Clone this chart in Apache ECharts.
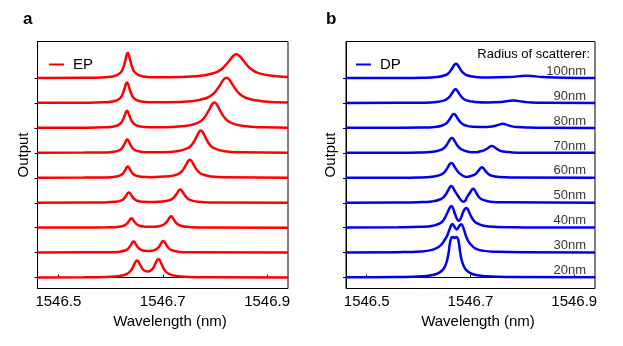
<!DOCTYPE html>
<html>
<head>
<meta charset="utf-8">
<script src="https://cdn.jsdelivr.net/npm/echarts@6/dist/echarts.min.js"></script>
<style>
  html, body { margin: 0; padding: 0; background: #fff; }
  #main { width: 623px; height: 346px; }
</style>
</head>
<body>
<div id="main"></div>
<script>
// wavelength ticks (nm)
const xTicks = [1546.5, 1546.7, 1546.9];
// vertical offset of each trace, top to bottom
const offsets = [8, 7, 6, 5, 4, 3, 2, 1, 0];
const radiusLabels = ['100nm', '90nm', '80nm', '70nm', '60nm', '50nm', '40nm', '30nm', '20nm'];

// panel a, EP traces (wavelength, output above own baseline), top to bottom
const ep1 = [[1546.46,.01],[1546.55,.013],[1546.5898,.037],[1546.6078,.085],[1546.6186,.21],[1546.6236,.382],[1546.6287,.745],[1546.6308,.927],[1546.633,1.01],[1546.6352,.927],[1546.6373,.745],[1546.6424,.382],[1546.6474,.21],[1546.6582,.087],[1546.6762,.04],[1546.709,.035],[1546.764,.074],[1546.797,.193],[1546.8124,.358],[1546.8278,.707],[1546.8344,.88],[1546.841,.96],[1546.8476,.88],[1546.8542,.706],[1546.8696,.357],[1546.885,.192],[1546.918,.072],[1546.94,.045]];
const ep2 = [[1546.46,.01],[1546.55,.015],[1546.5883,.032],[1546.6063,.072],[1546.6171,.174],[1546.6221,.315],[1546.6272,.613],[1546.6293,.762],[1546.6315,.83],[1546.6337,.762],[1546.6358,.613],[1546.6409,.316],[1546.6459,.175],[1546.6567,.073],[1546.6747,.034],[1546.708,.034],[1546.7555,.077],[1546.784,.204],[1546.7973,.379],[1546.8106,.75],[1546.8163,.935],[1546.822,1.02],[1546.8277,.935],[1546.8334,.75],[1546.8467,.379],[1546.86,.204],[1546.8885,.077],[1546.94,.026]];
const ep3 = [[1546.46,.01],[1546.55,.014],[1546.5883,.027],[1546.6063,.06],[1546.6171,.146],[1546.6221,.263],[1546.6272,.51],[1546.6293,.634],[1546.6315,.69],[1546.6337,.634],[1546.6358,.51],[1546.6409,.264],[1546.6459,.147],[1546.6567,.062],[1546.6747,.03],[1546.703,.033],[1546.743,.077],[1546.767,.204],[1546.7782,.379],[1546.7894,.75],[1546.7942,.935],[1546.799,1.02],[1546.8038,.935],[1546.8086,.75],[1546.8198,.379],[1546.831,.204],[1546.855,.077],[1546.895,.028],[1546.94,.013]];
const ep4 = [[1546.46,.008],[1546.55,.012],[1546.5888,.02],[1546.6068,.047],[1546.6176,.114],[1546.6226,.205],[1546.6277,.398],[1546.6298,.494],[1546.632,.54],[1546.6342,.494],[1546.6363,.398],[1546.6414,.206],[1546.6464,.114],[1546.6572,.05],[1546.6752,.024],[1546.695,.028],[1546.7275,.068],[1546.747,.18],[1546.7561,.335],[1546.7652,.662],[1546.7691,.825],[1546.773,.9],[1546.7769,.825],[1546.7808,.662],[1546.7899,.335],[1546.799,.18],[1546.8185,.068],[1546.851,.024],[1546.94,.005]];
const ep5 = [[1546.46,.005],[1546.55,.01],[1546.5898,.017],[1546.6078,.04],[1546.6186,.096],[1546.6236,.174],[1546.6287,.338],[1546.6308,.42],[1546.633,.457],[1546.6352,.42],[1546.6373,.338],[1546.6424,.175],[1546.6474,.097],[1546.6582,.043],[1546.6762,.028],[1546.712,.06],[1546.729,.149],[1546.737,.272],[1546.7451,.537],[1546.7485,.67],[1546.752,.73],[1546.7555,.67],[1546.7589,.537],[1546.767,.272],[1546.775,.146],[1546.7923,.055],[1546.821,.02],[1546.94,.003]];
const ep6 = [[1546.46,.005],[1546.55,.01],[1546.59,.015],[1546.6088,.036],[1546.62,.087],[1546.6253,.158],[1546.6305,.306],[1546.6328,.381],[1546.635,.415],[1546.6373,.381],[1546.6395,.307],[1546.6448,.16],[1546.65,.088],[1546.6613,.04],[1546.684,.03],[1546.6992,.046],[1546.7139,.11],[1546.7208,.197],[1546.7276,.39],[1546.7306,.486],[1546.7335,.53],[1546.7364,.486],[1546.7394,.39],[1546.7462,.197],[1546.7531,.106],[1546.7678,.04],[1546.7923,.014],[1546.94,.003]];
const ep7 = [[1546.46,.005],[1546.55,.008],[1546.595,.013],[1546.6138,.032],[1546.625,.078],[1546.6303,.143],[1546.6355,.277],[1546.6378,.344],[1546.64,.375],[1546.6423,.344],[1546.6445,.277],[1546.6498,.14],[1546.655,.079],[1546.6663,.041],[1546.678,.036],[1546.6862,.042],[1546.699,.095],[1546.705,.171],[1546.7109,.334],[1546.7134,.413],[1546.716,.455],[1546.7186,.413],[1546.7211,.331],[1546.727,.167],[1546.733,.09],[1546.7458,.034],[1546.767,.012],[1546.94,.002]];
const ep8 = [[1546.46,.005],[1546.55,.01],[1546.599,.015],[1546.6178,.037],[1546.629,.094],[1546.6343,.17],[1546.6395,.331],[1546.6418,.411],[1546.644,.449],[1546.6463,.413],[1546.6485,.334],[1546.6538,.177],[1546.659,.104],[1546.6655,.07],[1546.6725,.063],[1546.685,.106],[1546.6906,.182],[1546.6962,.347],[1546.6986,.43],[1546.701,.468],[1546.7034,.429],[1546.7058,.345],[1546.7114,.177],[1546.717,.097],[1546.729,.039],[1546.749,.015],[1546.94,.002]];
const ep9 = [[1546.46,.005],[1546.55,.011],[1546.593,.025],[1546.6174,.06],[1546.6316,.147],[1546.6383,.262],[1546.6449,.506],[1546.6478,.628],[1546.6506,.685],[1546.6534,.637],[1546.6563,.525],[1546.6629,.31],[1546.6712,.238],[1546.6795,.324],[1546.6861,.566],[1546.689,.689],[1546.6918,.742],[1546.6946,.68],[1546.6975,.547],[1546.7041,.282],[1546.7108,.158],[1546.7251,.063],[1546.7488,.025],[1546.80,.007],[1546.94,.002]];

// panel b, DP traces, radius 100nm down to 20nm
const dp1 = [[1546.46,.005],[1546.56,.008],[1546.609,.016],[1546.6353,.044],[1546.651,.116],[1546.6584,.216],[1546.6657,.426],[1546.6689,.532],[1546.672,.58],[1546.6752,.532],[1546.6783,.426],[1546.6857,.216],[1546.693,.116],[1546.7088,.05],[1546.735,.028],[1546.775,.045],[1546.808,.092],[1546.84,.045],[1546.88,.014],[1546.94,.005]];
const dp2 = [[1546.46,.005],[1546.56,.008],[1546.608,.015],[1546.6343,.041],[1546.65,.11],[1546.6574,.205],[1546.6647,.404],[1546.6679,.504],[1546.671,.55],[1546.6742,.504],[1546.6773,.404],[1546.6847,.205],[1546.692,.11],[1546.7078,.047],[1546.734,.027],[1546.7591,.045],[1546.7717,.08],[1546.7825,.105],[1546.7933,.078],[1546.806,.04],[1546.8185,.02],[1546.845,.008],[1546.94,.002]];
const dp3 = [[1546.46,.005],[1546.56,.008],[1546.605,.015],[1546.6313,.042],[1546.647,.112],[1546.6544,.208],[1546.6617,.412],[1546.6649,.514],[1546.668,.56],[1546.6712,.514],[1546.6743,.412],[1546.6817,.208],[1546.689,.112],[1546.7048,.051],[1546.731,.042],[1546.7438,.07],[1546.7536,.126],[1546.762,.167],[1546.7704,.124],[1546.7802,.065],[1546.79,.036],[1546.811,.015],[1546.846,.005],[1546.94,.002]];
const dp4 = [[1546.46,.005],[1546.56,.008],[1546.601,.016],[1546.6273,.045],[1546.643,.12],[1546.6504,.223],[1546.6577,.441],[1546.6609,.55],[1546.664,.6],[1546.6672,.55],[1546.6703,.441],[1546.6777,.223],[1546.685,.12],[1546.695,.05],[1546.705,.025],[1546.713,.03],[1546.719,.065],[1546.7267,.11],[1546.7344,.206],[1546.7377,.257],[1546.741,.28],[1546.7443,.257],[1546.7476,.206],[1546.7553,.104],[1546.763,.056],[1546.7795,.021],[1546.807,.008],[1546.94,.002]];
const dp5 = [[1546.46,.005],[1546.56,.008],[1546.6,.016],[1546.6263,.045],[1546.642,.12],[1546.6494,.223],[1546.6567,.441],[1546.6599,.55],[1546.663,.6],[1546.6662,.55],[1546.6693,.441],[1546.6767,.223],[1546.684,.1],[1546.692,.035],[1546.703,.09],[1546.7097,.156],[1546.7163,.31],[1546.7192,.385],[1546.722,.42],[1546.7248,.385],[1546.7277,.31],[1546.7344,.156],[1546.741,.084],[1546.7553,.032],[1546.779,.012],[1546.94,.002]];
const dp6 = [[1546.46,.005],[1546.56,.01],[1546.6,.022],[1546.6263,.055],[1546.642,.14],[1546.6494,.256],[1546.6567,.492],[1546.6599,.614],[1546.663,.67],[1546.6662,.614],[1546.6693,.492],[1546.6767,.25],[1546.682,.1],[1546.686,.045],[1546.69,.08],[1546.6927,.21],[1546.6993,.41],[1546.7022,.514],[1546.705,.56],[1546.7078,.514],[1546.7107,.41],[1546.7173,.21],[1546.724,.115],[1546.7383,.042],[1546.762,.016],[1546.94,.003]];
const dp7 = [[1546.46,.005],[1546.56,.016],[1546.605,.035],[1546.628,.08],[1546.64,.16],[1546.647,.28],[1546.652,.45],[1546.6565,.65],[1546.66,.8],[1546.663,.87],[1546.666,.8],[1546.67,.56],[1546.674,.35],[1546.6775,.28],[1546.681,.36],[1546.685,.58],[1546.689,.75],[1546.692,.79],[1546.695,.73],[1546.6995,.52],[1546.705,.32],[1546.712,.18],[1546.725,.08],[1546.75,.03],[1546.8,.012],[1546.94,.005]];
const dp8 = [[1546.46,.006],[1546.56,.018],[1546.605,.045],[1546.626,.11],[1546.638,.22],[1546.645,.35],[1546.6505,.52],[1546.655,.68],[1546.6595,.93],[1546.6625,1.08],[1546.665,1.15],[1546.6685,1.06],[1546.6735,.93],[1546.678,1.06],[1546.682,1.14],[1546.6848,1.07],[1546.688,.88],[1546.6925,.6],[1546.6975,.4],[1546.704,.25],[1546.712,.14],[1546.726,.07],[1546.75,.035],[1546.8,.013],[1546.94,.006]];
const dp9 = [[1546.46,.008],[1546.56,.022],[1546.608,.05],[1546.627,.1],[1546.639,.19],[1546.6465,.31],[1546.6515,.48],[1546.6552,.72],[1546.6582,1.05],[1546.6605,1.4],[1546.663,1.59],[1546.6655,1.63],[1546.669,1.585],[1546.6725,1.63],[1546.675,1.59],[1546.6775,1.4],[1546.6798,1.05],[1546.6828,.72],[1546.6865,.48],[1546.6915,.31],[1546.699,.19],[1546.711,.1],[1546.73,.05],[1546.78,.022],[1546.94,.008]];

const epTraces = [ep1, ep2, ep3, ep4, ep5, ep6, ep7, ep8, ep9];
const dpTraces = [dp1, dp2, dp3, dp4, dp5, dp6, dp7, dp8, dp9];

const FONT = 'Liberation Sans, Arial, sans-serif';
const RED = '#ff0000';
const BLUE = '#0000ee';

let myChart = echarts.init(document.getElementById('main'), null, { renderer: 'canvas' });

function makeX(idx) {
    return {
        type: 'value', gridIndex: idx, min: 1546.46, max: 1546.94,
        axisLine: { show: true, lineStyle: { color: '#000', width: 1 } },
        axisTick: { show: true, inside: true, length: 3, customValues: xTicks, lineStyle: { color: '#000' } },
        axisLabel: { customValues: xTicks, formatter: v => v.toFixed(1), color: '#000', fontSize: 15, fontFamily: FONT, margin: 6 },
        splitLine: { show: false }
    };
}
function makeY(idx) {
    return {
        type: 'value', gridIndex: idx, min: -0.44, max: 9.47,
        axisLine: { show: true, lineStyle: { color: '#000', width: 1 } },
        axisTick: { show: true, inside: false, length: 3, customValues: offsets, lineStyle: { color: '#000' } },
        axisLabel: { show: false },
        splitLine: { show: false }
    };
}

let series = [];
epTraces.forEach(function (tr, i) {
    series.push({
        name: 'EP', type: 'line', xAxisIndex: 0, yAxisIndex: 0,
        data: tr.map(p => [p[0], p[1] + offsets[i]]),
        showSymbol: false, smooth: 0.5, silent: true,
        lineStyle: { color: RED, width: 2.5 }, itemStyle: { color: RED }
    });
});
dpTraces.forEach(function (tr, i) {
    series.push({
        name: 'DP', type: 'line', xAxisIndex: 1, yAxisIndex: 1,
        data: tr.map(p => [p[0], p[1] + offsets[i]]),
        showSymbol: false, smooth: 0.5, silent: true,
        lineStyle: { color: BLUE, width: 2.5 }, itemStyle: { color: BLUE }
    });
});
// radius labels, anchored right at each DP baseline
series.push({
    name: 'radius', type: 'scatter', xAxisIndex: 1, yAxisIndex: 1,
    symbolSize: 0, silent: true,
    data: offsets.map((k, i) => ({ value: [1546.9226, k + 0.28], name: radiusLabels[i] })),
    label: { show: true, position: 'left', distance: 0, formatter: p => p.name, color: '#000', fontSize: 13, fontFamily: FONT }
});

option = {
    animation: false,
    backgroundColor: '#fff',
    grid: [
        { left: 37.5, right: 335, top: 41.5, bottom: 57.5, show: true, borderColor: '#000', borderWidth: 1, backgroundColor: 'transparent' },
        { left: 346, right: 28, top: 41.5, bottom: 57.5, show: true, borderColor: '#000', borderWidth: 1, backgroundColor: 'transparent' }
    ],
    xAxis: [makeX(0), makeX(1)],
    yAxis: [makeY(0), makeY(1)],
    legend: [
        { data: ['EP'], left: 44, top: 52, icon: 'rect', itemWidth: 15, itemHeight: 2, selectedMode: false,
          textStyle: { color: '#000', fontSize: 15, fontFamily: FONT, padding: [0, 0, 0, 4] } },
        { data: ['DP'], left: 351, top: 52, icon: 'rect', itemWidth: 15, itemHeight: 2, selectedMode: false,
          textStyle: { color: '#000', fontSize: 15, fontFamily: FONT, padding: [0, 0, 0, 4] } }
    ],
    graphic: [
        { type: 'text', left: 23, top: 11, style: { text: 'a', font: 'bold 17px ' + FONT, fill: '#000' } },
        { type: 'text', left: 326, top: 11, style: { text: 'b', font: 'bold 17px ' + FONT, fill: '#000' } },
        { type: 'text', x: 170, y: 322, style: { text: 'Wavelength (nm)', font: '15px ' + FONT, fill: '#000', align: 'center', verticalAlign: 'middle' } },
        { type: 'text', x: 478, y: 322, style: { text: 'Wavelength (nm)', font: '15px ' + FONT, fill: '#000', align: 'center', verticalAlign: 'middle' } },
        { type: 'text', x: 24, y: 155, rotation: Math.PI / 2, style: { text: 'Output', font: '15px ' + FONT, fill: '#000', align: 'center', verticalAlign: 'middle' } },
        { type: 'text', x: 331, y: 155, rotation: Math.PI / 2, style: { text: 'Output', font: '15px ' + FONT, fill: '#000', align: 'center', verticalAlign: 'middle' } },
        { type: 'text', x: 590, y: 54, style: { text: 'Radius of scatterer:', font: '13px ' + FONT, fill: '#000', align: 'right', verticalAlign: 'middle' } }
    ],
    series: series
};

myChart.setOption(option);
</script>
</body>
</html>
